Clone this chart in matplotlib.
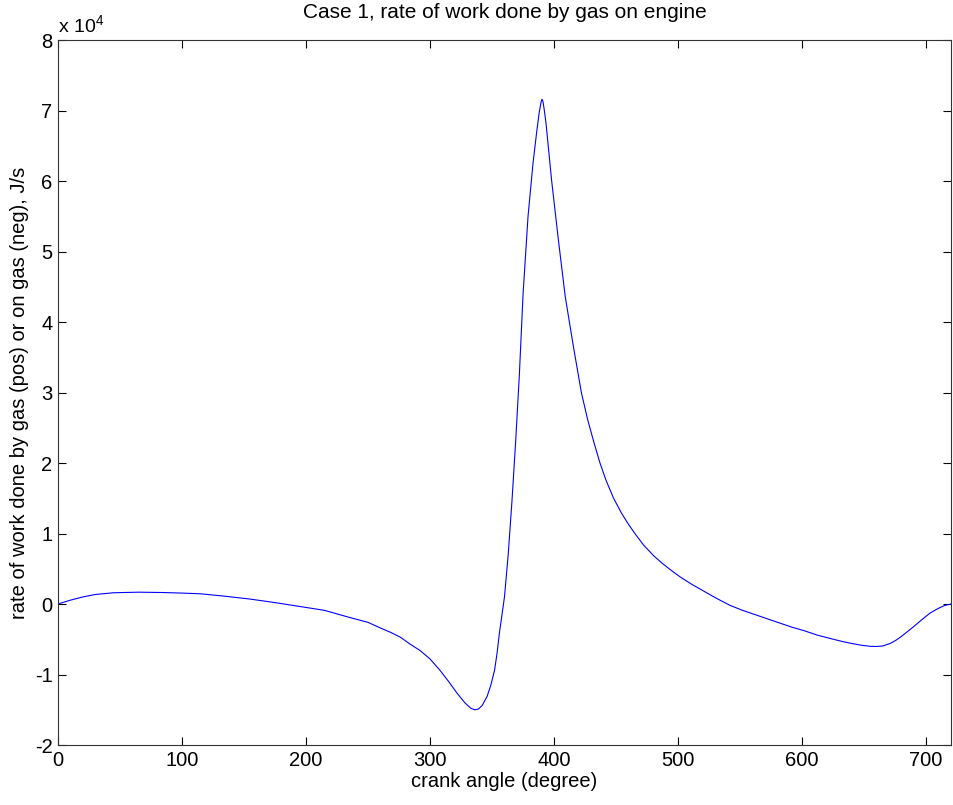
"""
Case 1: rate of work done by gas on engine vs crank angle.
MATLAB-style single line plot.
"""

import numpy as np
import matplotlib
matplotlib.use("Agg")
import matplotlib.pyplot as plt
from matplotlib.ticker import FuncFormatter

plt.rcParams["font.family"] = ["Liberation Sans", "DejaVu Sans"]
plt.rcParams["mathtext.fontset"] = "custom"
plt.rcParams["mathtext.rm"] = "Liberation Sans"

# --- data (power in units of 1e4 J/s) ------------------------------------
crank_angle = [0, 10, 20, 30, 45, 65, 85, 100, 115, 135, 155, 175, 195,
               215, 235, 250, 260, 268, 276, 284, 292, 300, 308, 315, 322,
               328, 333, 336, 339, 342, 346, 349, 352, 354, 356, 358, 360,
               363, 366, 369, 372, 375, 379, 383, 386, 388, 389.5, 390.3,
               391, 392, 393.5, 398, 403.5, 409, 415.6, 422, 427, 432, 437,
               442, 448, 454, 460, 466, 472, 480, 487, 495, 502, 511, 520,
               531, 542, 552, 562, 572, 582, 592, 602, 612, 623, 632, 640,
               648, 655, 660, 665, 671, 676, 680, 685, 690, 696, 703, 710,
               715, 720]
power_e4 = [0.0, 0.055, 0.10, 0.135, 0.16, 0.168, 0.163, 0.155, 0.145, 0.11,
            0.07, 0.02, -0.035, -0.09, -0.19, -0.26, -0.34, -0.40, -0.47,
            -0.57, -0.66, -0.78, -0.94, -1.10, -1.27, -1.40, -1.48, -1.50,
            -1.49, -1.44, -1.31, -1.15, -0.94, -0.70, -0.40, -0.15, 0.10,
            0.70, 1.45, 2.30, 3.25, 4.40, 5.50, 6.25, 6.70, 6.97, 7.12, 7.16,
            7.13, 7.02, 6.82, 6.01, 5.16, 4.36, 3.65, 3.00, 2.62, 2.30, 2.00,
            1.75, 1.50, 1.30, 1.13, 0.98, 0.84, 0.69, 0.58, 0.47, 0.38, 0.28,
            0.19, 0.08, -0.02, -0.09, -0.15, -0.21, -0.27, -0.33, -0.38,
            -0.44, -0.49, -0.53, -0.56, -0.585, -0.60, -0.602, -0.595, -0.56,
            -0.51, -0.46, -0.39, -0.32, -0.23, -0.13, -0.06, -0.02, 0.0]
power = np.array(power_e4) * 1e4

x_ticks = [0, 100, 200, 300, 400, 500, 600, 700]
y_ticks = np.arange(-2, 9) * 1e4

fig = plt.figure(figsize=(9.54, 8.05), dpi=100)
ax = fig.add_axes([0.0608, 0.0745, 0.936, 0.8758])

ax.plot(crank_angle, power, color="#0000ff", linewidth=0.8)

ax.set_xlim(0, 720)
ax.set_ylim(-2e4, 8e4)
ax.set_xticks(x_ticks)
ax.set_yticks(y_ticks)
ax.yaxis.set_major_formatter(FuncFormatter(lambda v, p: f"{v / 1e4:g}"))
ax.tick_params(direction="in", top=True, right=True, length=6,
               width=0.8, labelsize=14.5, pad=4)
for s in ax.spines.values():
    s.set_linewidth(0.8)
    s.set_color("#333333")

ax.text(0.0, 1.004, r"x 10$^{4}$", transform=ax.transAxes,
        ha="left", va="bottom", fontsize=14)
ax.set_title("Case 1, rate of work done by gas on engine", fontsize=15,
             pad=16)
ax.set_xlabel("crank angle (degree)", fontsize=14.5, labelpad=2)
ax.set_ylabel("rate of work done by gas (pos) or on gas (neg), J/s",
              fontsize=14.5, labelpad=4)

fig.savefig("out.png", dpi=100)
